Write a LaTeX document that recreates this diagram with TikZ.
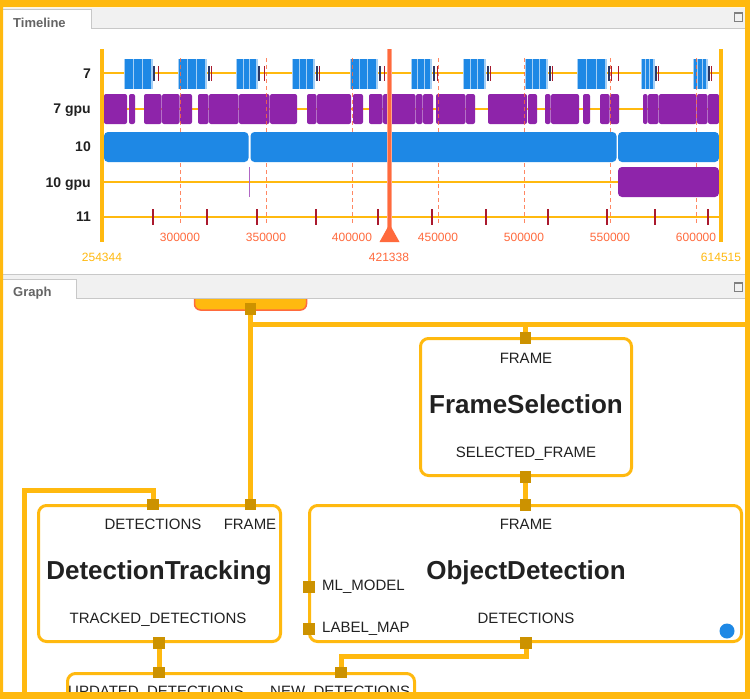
\documentclass[tikz,border=0pt]{standalone}
\usepackage{fontspec}
\setmainfont{Liberation Sans}
\definecolor{amber}{RGB}{255,185,15}
\definecolor{portc}{RGB}{204,146,0}
\definecolor{tlblue}{RGB}{30,136,229}
\definecolor{tlpurple}{RGB}{142,36,170}
\definecolor{coral}{RGB}{255,106,61}
\definecolor{tickred}{RGB}{170,25,45}
\definecolor{tickdark}{RGB}{45,55,100}
\definecolor{tabgray}{RGB}{241,241,241}
\definecolor{linegray}{RGB}{200,200,200}
\definecolor{txt}{RGB}{33,33,33}
\tikzset{
  lbl/.style={font=\fontsize{15}{18}\selectfont, text=txt, inner sep=0pt},
  bigtitle/.style={font=\fontsize{26}{30}\selectfont\bfseries, text=txt, inner sep=0pt},
  rowlbl/.style={font=\fontsize{14}{16}\selectfont\bfseries, text=txt, inner sep=0pt, anchor=base east},
  axlbl/.style={font=\fontsize{12}{14}\selectfont, text=coral, inner sep=0pt, anchor=base},
  tablbl/.style={font=\fontsize{13}{15}\selectfont\bfseries, text={rgb,255:red,100;green,100;blue,100}, inner sep=0pt, anchor=base west},
  gbox/.style={draw=amber, line width=3pt, rounded corners=8pt, fill=white, inner sep=0pt},
  portsq/.style={fill=portc, minimum size=11pt, inner sep=0pt, draw=none},
  edge/.style={draw=amber, line width=5pt},
}
\begin{document}
\begin{tikzpicture}[x=1pt, y=-1pt]
\useasboundingbox (0,0) rectangle (750,699);
\fill[white] (0,0) rectangle (750,699);

% ---------------- Timeline panel ----------------
\fill[tabgray] (3,8) rectangle (745,28);
\draw[linegray] (3,28.5) -- (745,28.5);
\fill[white] (3,9) rectangle (91,29);
\draw[linegray] (3,9) -- (91,9) -- (91,28.5);
\node[tablbl] (tltab) at (13,27) {Timeline};
\draw[gray, line width=1pt] (734.5,12.5) rectangle (742,21);
\draw[gray, line width=2pt] (734.5,13) -- (742,13);

% row lines
\foreach \y in {73,109,182,217}
  \draw[amber, line width=2.5pt] (104,\y) -- (719,\y);

% row 7 clusters
\foreach \a/\b/\d/\r in {125/152/153/158, 179/206/208/211, 237/257/258/264, 293/314/316/319,
  351/377/379/384, 412/431/433/437, 464/485/487/490, 526/547/549/552, 578/606/608/611,
  642/654/655/658, 694/707/708/711} {
  \pgfmathsetmacro\w{(\b-\a)/3}
  \fill[tlblue!40] (\a-0.7,59) rectangle (\b+0.7,89);
  \fill[tlblue] (\a,59) rectangle ++(\w-1,30);
  \fill[tlblue] (\a+\w,59) rectangle ++(\w-1,30);
  \fill[tlblue] (\a+2*\w,59) rectangle ++(\w-1,30);
  \fill[tickdark] (\d,66) rectangle ++(1.6,15);
  \fill[tickred] (\r,66) rectangle ++(1.4,15);
}
\fill[tickred] (618,66) rectangle ++(1.4,15);

% row 7 gpu
\foreach \a/\b in {104/127, 129/135, 144/161.5, 162/179.5, 180/192, 198/208.5, 209/238.5, 239/269.5,
  270/297, 307/316.5, 317/351, 353/363, 369/382.5, 383/415.5, 416/422.5, 423/433, 436/465.5,
  466/475, 488/527, 528/537, 545/550.5, 551/579, 583/590, 600/609.5, 610/619, 643/647.5,
  648/658.5, 659/696.5, 697/707.5, 708/719}
  \fill[tlpurple, rounded corners=2pt] (\a,94) rectangle (\b,124);

% dashed grid lines
\foreach \x in {180,266,352,438,524,610,696}
  \draw[coral, opacity=0.8, dash pattern=on 4pt off 3pt, line width=1pt] (\x,58) -- (\x,223);

% row 10
\fill[tlblue, rounded corners=4pt] (104,132) rectangle (248.5,162);
\fill[tlblue, rounded corners=4pt] (250.5,132) rectangle (616.5,162);
\fill[tlblue, rounded corners=4pt] (618,132) rectangle (719,162);
% row 10 gpu
\fill[tlpurple, rounded corners=4pt] (618,167) rectangle (719,197);
\fill[tlpurple!70] (248.5,167) rectangle (250,197);
% row 11 ticks
\foreach \x in {153,207,257,316,378,432,486,548,607,655,708}
  \fill[tickred] (\x-0.9,209) rectangle (\x+0.9,225);

% axes
\fill[amber] (100,49) rectangle (104,242);
\fill[amber] (719,49) rectangle (723,242);

% row labels
\node[rowlbl] (r7) at (91,78) {7};
\node[rowlbl] (r7g) at (91,113) {7 gpu};
\node[rowlbl] (r10) at (91,151) {10};
\node[rowlbl] (r10g) at (91,187) {10 gpu};
\node[rowlbl] (r11) at (91,221) {11};

% axis labels
\foreach \x/\l in {180/300000, 266/350000, 352/400000, 438/450000, 524/500000, 610/550000, 696/600000}
  \node[axlbl] (ax\l) at (\x,241) {\l};
\node[axlbl, text=amber] (axmin) at (102,261) {254344};
\node[axlbl, text=amber] (axmax) at (721,261) {614515};
\node[axlbl] (axcur) at (389,261) {421338};

% cursor
\fill[coral!60] (387,49) rectangle (392,228);
\fill[coral] (388,49) rectangle (391,228);
\fill[coral] (389.5,224) -- (399.5,242) -- (379.5,242) -- cycle;

% ---------------- Graph panel ----------------
\begin{scope}
\clip (3,298) rectangle (745,692);
\node[draw=coral, fill=amber, rounded corners=6pt, line width=1.5pt, minimum width=112pt, minimum height=36pt, inner sep=0pt] (src) at (250.5,292) {};

% boxes
\node[gbox, minimum width=211pt, minimum height=137pt] (fs) at (526,407) {};
\node[gbox, minimum width=432pt, minimum height=136pt] (od) at (525.5,573.5) {};
\node[gbox, minimum width=242pt, minimum height=136pt] (dt) at (159.5,573.5) {};
\node[gbox, minimum width=347pt, minimum height=60pt] (ud) at (241,703.5) {};

% ports
\node[portsq] (srcP) at (250.5,309) {};
\node[portsq] (fsIn) at (525.5,338) {};
\node[portsq] (fsOut) at (525.5,477) {};
\node[portsq] (odIn) at (525.5,505) {};
\node[portsq] (odML) at (309,587) {};
\node[portsq] (odLM) at (309,629) {};
\node[portsq] (odOut) at (526,643) {};
\node[portsq] (dtDet) at (153,504.5) {};
\node[portsq] (dtFr) at (250.5,504.5) {};
\node[portsq] (dtOut) at (159,643) {};
\node[portsq] (udIn) at (159,672.5) {};
\node[portsq] (ndIn) at (341,672.5) {};

% connector end points
\coordinate (j1) at (250.5,324);
\coordinate (rEnd) at (747,324);
\coordinate (lTop) at (24,490.5);
\coordinate (lEnd) at (24,705);

\draw[edge] (srcP) -- (dtFr);
\draw[edge] (j1) -- (rEnd);
\draw[edge] (fsIn) -- (fsIn |- j1);
\draw[edge] (fsOut) -- (odIn);
\draw[edge] (dtDet) |- (lTop) -- (lEnd);
\draw[edge] (dtOut) -- (udIn);
\draw[edge] (odOut) -- ++(0,13) -| (ndIn);

% ports on top of connectors
\foreach \p in {srcP,fsIn,fsOut,odIn,odML,odLM,odOut,dtDet,dtFr,dtOut,udIn,ndIn}
  \fill[portc] (\p.south west) rectangle (\p.north east);

% texts
\node[lbl, anchor=base] (fsF) at (526,363) {FRAME};
\node[bigtitle, anchor=base] (fsT) at (526,413) {FrameSelection};
\node[lbl, anchor=base] (fsS) at (526,457) {SELECTED\_FRAME};

\node[lbl, anchor=base] (odF) at (526,529) {FRAME};
\node[bigtitle, anchor=base] (odT) at (526,579) {ObjectDetection};
\node[lbl, anchor=base] (odD) at (526,623) {DETECTIONS};
\node[lbl, anchor=base west] (odM) at (322,590) {ML\_MODEL};
\node[lbl, anchor=base west] (odL) at (322,632) {LABEL\_MAP};
\node[circle, fill=tlblue, minimum size=15pt, inner sep=0pt] (dot) at (727,631) {};

\node[lbl, anchor=base] (dtD) at (153,529) {DETECTIONS};
\node[lbl, anchor=base] (dtF) at (250,529) {FRAME};
\node[bigtitle, anchor=base] (dtT) at (159,579) {DetectionTracking};
\node[lbl, anchor=base] (dtTr) at (158,623) {TRACKED\_DETECTIONS};

\node[lbl, anchor=base west] (udT) at (68,696) {UPDATED\_DETECTIONS};
\node[lbl, anchor=base west] (ndT) at (270,696) {NEW\_DETECTIONS};
\end{scope}

% graph tab bar
\fill[tabgray] (3,274) rectangle (745,298);
\draw[linegray] (3,274) -- (745,274);
\draw[linegray] (3,298.5) -- (745,298.5);
\fill[white] (3,279) rectangle (76,299);
\draw[linegray] (3,279) -- (76,279) -- (76,298.5);
\node[tablbl] (grtab) at (13,296) {Graph};
\draw[gray, line width=1pt] (734.5,282.5) rectangle (742,291);
\draw[gray, line width=2pt] (734.5,283) -- (742,283);

% outer frame
\fill[amber, even odd rule] (0,0) rectangle (750,699) (3,7) rectangle (745,692);
\end{tikzpicture}
\end{document}
